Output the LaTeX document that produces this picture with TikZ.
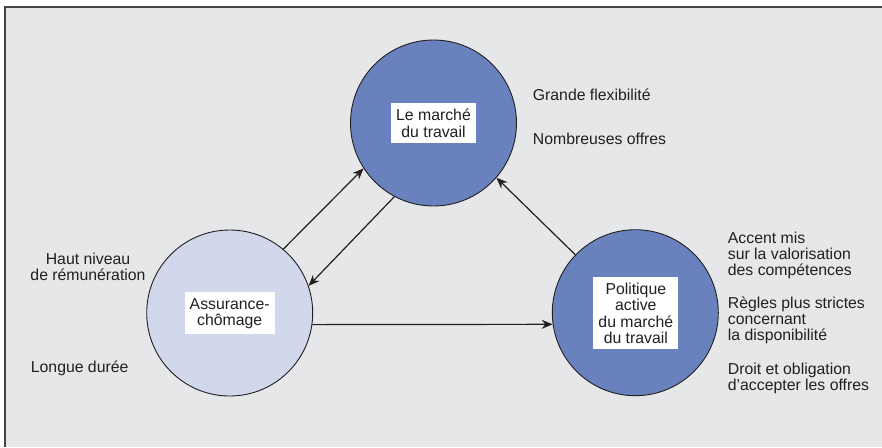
\documentclass[tikz,border=0pt]{standalone}
\usepackage{fontspec}
\setmainfont{Liberation Sans}
\usetikzlibrary{arrows.meta}
\definecolor{bgc}{HTML}{E6E7E9}
\definecolor{darkblue}{HTML}{6982BE}
\definecolor{lightblue}{HTML}{D1D8EB}
\definecolor{ink}{HTML}{231F20}
\definecolor{framec}{HTML}{444444}
\tikzset{
  circ/.style={circle, draw=ink, line width=0.9pt, minimum size=166pt, inner sep=0pt},
  labelbox/.style={fill=white, align=center, inner xsep=5pt, inner ysep=6pt, text=ink,
    font=\fontsize{15.8pt}{16.2pt}\selectfont},
  side/.style={inner sep=0pt, text=ink, font=\fontsize{15.8pt}{16pt}\selectfont},
  arr/.style={draw=ink, line width=1.2pt, -{Stealth[length=11pt,width=9pt]}}
}
\begin{document}
\begin{tikzpicture}[x=1pt,y=-1pt]
\useasboundingbox (0,0) rectangle (882,447);
\fill[bgc] (5,7) rectangle (882,447);
\draw[framec, line width=1.5pt] (5,447) -- (5,7) -- (882,7);

\node[circ, fill=darkblue] (lm) at (433.5,123) {};
\node[circ, fill=lightblue] (ac) at (229.7,313) {};
\node[circ, fill=darkblue] (pa) at (635.3,312.7) {};

\node[labelbox] (lmt) at (433.5,123.3) {Le marché\\du travail};
\node[labelbox] (act) at (229.7,313.3) {Assurance-\\chômage};
\node[labelbox] (pat) at (635.8,313.3) {Politique\\active\\du marché\\du travail};

\draw[arr] (ac.50.4) -- (lm.213.2);
\draw[arr] (lm.242.9) -- (ac.19.6);
\draw[arr] (ac.-8.8) -- (pa.188.9);
\draw[arr] (pa.136.2) -- (lm.-41.2);

\node[side, anchor=base west] (t1) at (532.7,100) {Grande flexibilité};
\node[side, anchor=base west] (t2) at (532.7,144) {Nombreuses offres};
\node[side, anchor=base, align=center] (t3) at (88,280.7) {Haut niveau\\de rémunération};
\node[side, anchor=base west] (t4) at (30.7,372) {Longue durée};
\node[side, anchor=base west, align=left] (t5) at (727.7,275) {Accent mis\\sur la valorisation\\des compétences};
\node[side, anchor=base west, align=left] (t6) at (727.7,340.7) {Règles plus strictes\\concernant\\la disponibilité};
\node[side, anchor=base west, align=left] (t7) at (727.7,390.7) {Droit et obligation\\d’accepter les offres};
\end{tikzpicture}
\end{document}
